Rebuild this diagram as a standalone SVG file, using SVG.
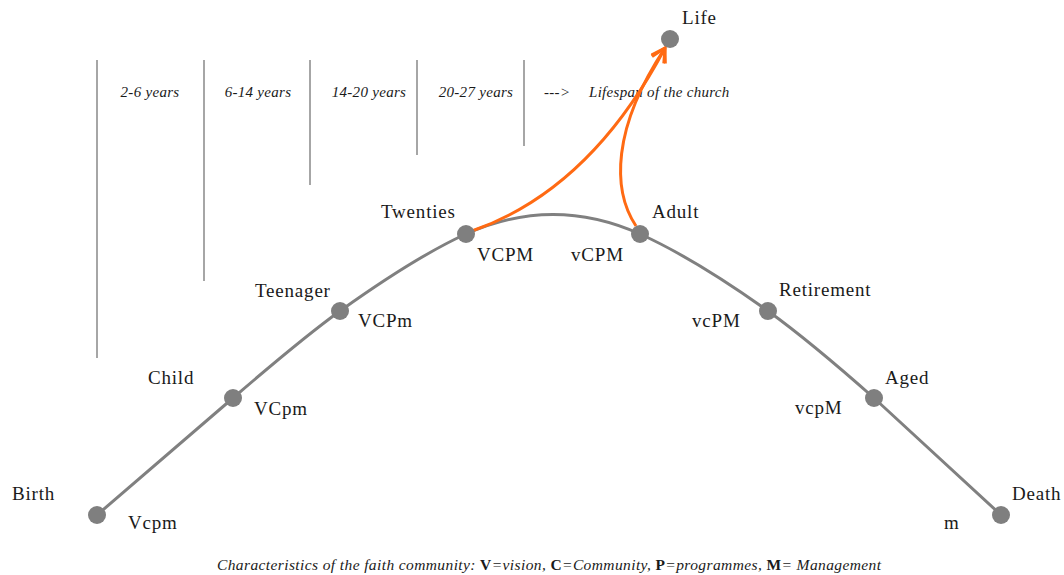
<svg xmlns="http://www.w3.org/2000/svg" width="1064" height="575" viewBox="0 0 1064 575">
<defs>
<style>
.lbl{font-family:"Liberation Serif","Times New Roman",serif;font-size:19px;fill:#1a1a1a;letter-spacing:0.8px}
.yr{font-family:"Liberation Serif","Times New Roman",serif;font-style:italic;font-size:15px;fill:#1a1a1a;letter-spacing:0.3px}
.cap{font-family:"Liberation Serif","Times New Roman",serif;font-style:italic;font-size:15.5px;fill:#1a1a1a}
.b{font-weight:bold;font-style:normal}
.sep{stroke:#a6a6a6;stroke-width:2;fill:none}
.dot{fill:#7f7f7f}
.curve{stroke:#808080;stroke-width:3;fill:none}
.orange{stroke:#ff6a13;stroke-width:3;fill:none;marker-end:url(#ah)}
</style>
<marker id="ah" viewBox="0 0 12 12" refX="10" refY="6" markerWidth="6" markerHeight="6" markerUnits="strokeWidth" orient="auto">
<path d="M1,1 L10,6 L1,11" fill="none" stroke="#ff6a13" stroke-width="2"/>
</marker>
</defs>
<rect width="1064" height="575" fill="#ffffff"/>
<g id="timeline">
<line class="sep" x1="97" y1="60" x2="97" y2="358"/>
<line class="sep" x1="204" y1="60" x2="204" y2="281"/>
<line class="sep" x1="310" y1="60" x2="310" y2="185"/>
<line class="sep" x1="417" y1="60" x2="417" y2="155"/>
<line class="sep" x1="524" y1="60" x2="524" y2="146"/>
<text class="yr" x="150" y="97" text-anchor="middle">2-6 years</text>
<text class="yr" x="258" y="97" text-anchor="middle">6-14 years</text>
<text class="yr" x="369" y="97" text-anchor="middle">14-20 years</text>
<text class="yr" x="476" y="97" text-anchor="middle">20-27 years</text>
<text class="yr" x="544" y="97">---&gt;</text>
<text class="yr" x="589" y="97">Lifespan of the church</text>
</g>
<g id="connectors">
<path class="curve" d="M97,515 L233,398 C269,367 304,337 340,311 C382,281 424,253 466,234 C524,208 582,208 640,234 C682,253 726,281 768,311 C804,337 839,367 874,398 L1001,515"/>
<path class="orange" d="M472,231 Q590,190 665,48"/>
<path class="orange" d="M636,226 C612,190 612,128 665,48"/>
</g>
<g id="node-birth"><circle class="dot" cx="97" cy="515" r="9"/><text class="lbl" x="12" y="500">Birth</text><text class="lbl" x="128" y="529">Vcpm</text></g>
<g id="node-child"><circle class="dot" cx="233" cy="398" r="9"/><text class="lbl" x="148" y="384">Child</text><text class="lbl" x="254" y="415">VCpm</text></g>
<g id="node-teenager"><circle class="dot" cx="340" cy="311" r="9"/><text class="lbl" x="255" y="297">Teenager</text><text class="lbl" x="358" y="327">VCPm</text></g>
<g id="node-twenties"><circle class="dot" cx="466" cy="234" r="9"/><text class="lbl" x="381" y="218">Twenties</text><text class="lbl" x="477" y="261">VCPM</text></g>
<g id="node-adult"><circle class="dot" cx="640" cy="234" r="9"/><text class="lbl" x="652" y="218">Adult</text><text class="lbl" x="571" y="261">vCPM</text></g>
<g id="node-retirement"><circle class="dot" cx="768" cy="311" r="9"/><text class="lbl" x="779" y="296">Retirement</text><text class="lbl" x="692" y="327">vcPM</text></g>
<g id="node-aged"><circle class="dot" cx="874" cy="398" r="9"/><text class="lbl" x="885" y="384">Aged</text><text class="lbl" x="795" y="414">vcpM</text></g>
<g id="node-death"><circle class="dot" cx="1001" cy="515" r="9"/><text class="lbl" x="1012" y="500">Death</text><text class="lbl" x="944" y="529">m</text></g>
<g id="node-life"><circle class="dot" cx="670" cy="39" r="9"/><text class="lbl" x="682" y="24">Life</text></g>
<g id="caption">
<text class="cap" x="217" y="570" textLength="664" lengthAdjust="spacing">Characteristics of  the faith community: <tspan class="b">V</tspan>=vision, <tspan class="b">C</tspan>=Community, <tspan class="b">P</tspan>=programmes, <tspan class="b">M</tspan>= Management</text>
</g>
</svg>
